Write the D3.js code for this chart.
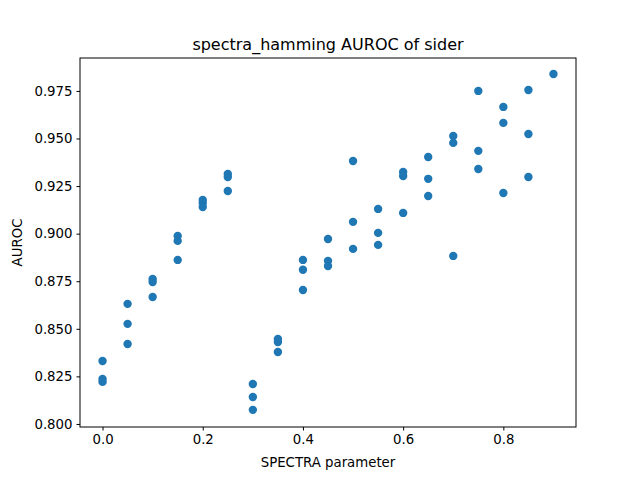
<!DOCTYPE html>
<html><head><meta charset="utf-8">
<script src="https://cdn.jsdelivr.net/npm/d3@7"></script>
<style>body{margin:0;background:#fff}svg{font-family:"DejaVu Sans",sans-serif}</style>
</head><body>
<svg id="chart" width="640" height="480"></svg>
<script>
// SPECTRA parameter values, three runs each (last has one)
const params = [0, 0.05, 0.1, 0.15, 0.2, 0.25, 0.3, 0.35, 0.4, 0.45, 0.5, 0.55, 0.6, 0.65, 0.7, 0.75, 0.8, 0.85, 0.9];
const aurocs = [
  [0.8331, 0.8236, 0.8221],
  [0.8631, 0.8526, 0.8420],
  [0.8762, 0.8746, 0.8667],
  [0.8988, 0.8962, 0.8862],
  [0.9177, 0.9161, 0.9140],
  [0.9314, 0.9298, 0.9224],
  [0.8210, 0.8142, 0.8074],
  [0.8447, 0.8431, 0.8378],
  [0.8862, 0.8810, 0.8704],
  [0.8972, 0.8857, 0.8830],
  [0.9382, 0.9062, 0.8920],
  [0.9130, 0.9004, 0.8941],
  [0.9324, 0.9303, 0.9109],
  [0.9403, 0.9288, 0.9198],
  [0.9513, 0.9477, 0.8883],
  [0.9750, 0.9435, 0.9340],
  [0.9666, 0.9582, 0.9214],
  [0.9755, 0.9524, 0.9298],
  [0.9839]
];
const xTicks = [0, 0.2, 0.4, 0.6, 0.8];
const yTicks = [0.800, 0.825, 0.850, 0.875, 0.900, 0.925, 0.950, 0.975];

const margin = {left: 80, right: 64, top: 58, bottom: 53};
const svg = d3.select('#chart');
const w = 640 - margin.left - margin.right, h = 480 - margin.top - margin.bottom;
const g = svg.append('g').attr('transform', `translate(${margin.left},${margin.top})`);

const x = d3.scaleLinear().domain([-0.045, 0.945]).range([0, w]);
const y = d3.scaleLinear().domain([0.7984, 0.9923]).range([h, 0]);

const points = params.flatMap((p, i) => aurocs[i].map(v => ({p, v})));

g.selectAll('circle').data(points).enter().append('circle')
  .attr('cx', d => x(d.p)).attr('cy', d => y(d.v)).attr('r', 4.2)
  .attr('fill', '#1f77b4');

const xAxis = g.append('g').attr('transform', `translate(0,${h})`)
  .call(d3.axisBottom(x).tickValues(xTicks).tickFormat(d3.format('.1f')).tickSizeOuter(0).tickSize(3.5).tickPadding(4));
const yAxis = g.append('g')
  .call(d3.axisLeft(y).tickValues(yTicks).tickFormat(d3.format('.3f')).tickSizeOuter(0).tickSize(3.5).tickPadding(4));
[xAxis, yAxis].forEach(a => {
  a.selectAll('text').attr('font-size', 13.3).attr('fill', '#000').attr('font-family', 'DejaVu Sans');
  a.select('.domain').remove();
});

g.append('rect').attr('width', w).attr('height', h).attr('fill', 'none').attr('stroke', '#000').attr('stroke-width', 1);

svg.append('text').attr('x', margin.left + w / 2).attr('y', 50).attr('text-anchor', 'middle')
  .attr('font-size', 16).text('spectra_hamming AUROC of sider');
svg.append('text').attr('x', margin.left + w / 2).attr('y', 467).attr('text-anchor', 'middle')
  .attr('font-size', 13.3).text('SPECTRA parameter');
svg.append('text').attr('transform', `translate(22,${margin.top + h / 2}) rotate(-90)`).attr('text-anchor', 'middle')
  .attr('font-size', 13.3).text('AUROC');
</script>
</body></html>
